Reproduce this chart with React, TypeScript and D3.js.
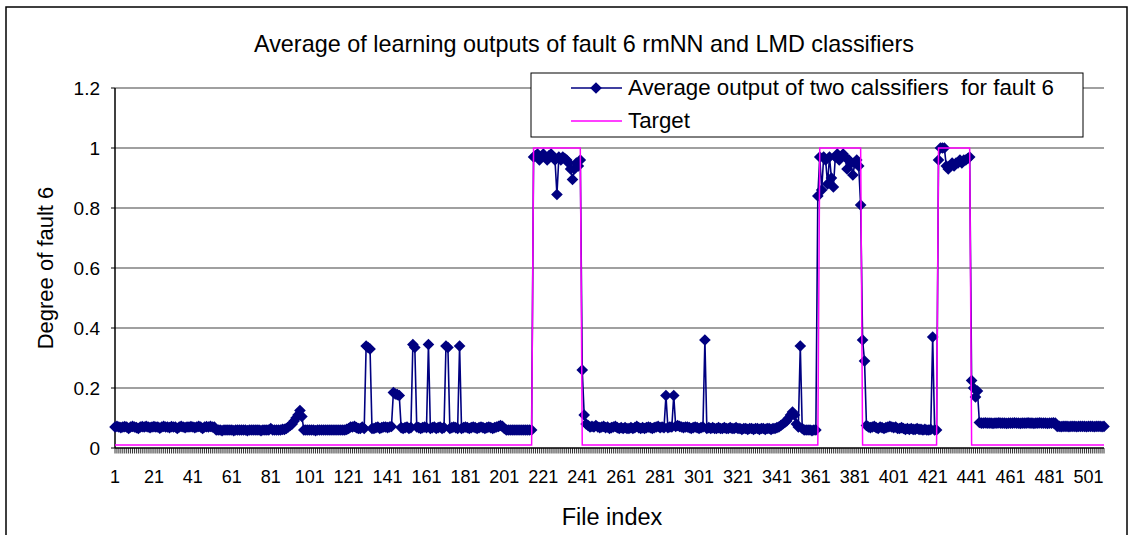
import React from 'react';
import * as d3 from 'd3';

const chartTitle = 'Average of learning outputs of fault 6 rmNN and LMD classifiers';
const seriesNames = ['Average output of two calssifiers  for fault 6', 'Target'];
const xTitle = 'File index';
const yTitle = 'Degree of fault 6';

// average output of the two classifiers, file index 1..509 (rows of 10)
const avgOutput = [
  0.07,0.072,0.07,0.068,0.07,0.071,0.07,0.065,0.07,0.072,
  0.07,0.068,0.065,0.07,0.071,0.07,0.072,0.07,0.068,0.07,
  0.071,0.07,0.07,0.066,0.07,0.072,0.07,0.07,0.068,0.071,
  0.07,0.07,0.065,0.07,0.072,0.07,0.068,0.07,0.07,0.071,
  0.07,0.068,0.07,0.072,0.07,0.065,0.07,0.071,0.07,0.072,
  0.07,0.07,0.06,0.06,0.06,0.058,0.06,0.06,0.06,0.06,
  0.06,0.058,0.06,0.06,0.06,0.06,0.06,0.06,0.058,0.06,
  0.06,0.06,0.06,0.06,0.06,0.058,0.06,0.06,0.06,0.06,
  0.065,0.06,0.06,0.06,0.06,0.06,0.062,0.062,0.065,0.07,
  0.075,0.08,0.09,0.1,0.11,0.125,0.105,0.06,0.06,0.06,
  0.06,0.06,0.06,0.058,0.06,0.06,0.06,0.06,0.06,0.06,
  0.06,0.06,0.06,0.06,0.06,0.06,0.06,0.06,0.06,0.062,
  0.065,0.07,0.07,0.072,0.068,0.065,0.065,0.07,0.065,0.34,
  0.335,0.33,0.065,0.065,0.068,0.07,0.065,0.068,0.07,0.07,
  0.068,0.07,0.072,0.185,0.18,0.178,0.175,0.068,0.065,0.068,
  0.07,0.065,0.068,0.345,0.335,0.07,0.068,0.065,0.068,0.07,
  0.068,0.345,0.065,0.068,0.07,0.065,0.068,0.07,0.065,0.068,
  0.34,0.335,0.065,0.068,0.07,0.068,0.065,0.34,0.065,0.068,
  0.07,0.068,0.065,0.068,0.07,0.068,0.065,0.068,0.07,0.068,
  0.065,0.068,0.07,0.068,0.065,0.068,0.07,0.072,0.075,0.072,
  0.065,0.06,0.06,0.06,0.06,0.06,0.06,0.06,0.06,0.06,
  0.06,0.06,0.06,0.06,0.06,0.97,0.975,0.98,0.96,0.97,
  0.98,0.97,0.96,0.975,0.98,0.97,0.96,0.845,0.97,0.96,
  0.97,0.965,0.96,0.95,0.93,0.895,0.93,0.95,0.94,0.96,
  0.26,0.11,0.08,0.075,0.07,0.072,0.07,0.075,0.07,0.068,
  0.07,0.072,0.068,0.07,0.065,0.068,0.07,0.072,0.068,0.065,
  0.068,0.065,0.068,0.065,0.065,0.068,0.065,0.068,0.072,0.068,
  0.065,0.068,0.065,0.068,0.07,0.068,0.065,0.068,0.07,0.072,
  0.068,0.07,0.068,0.175,0.068,0.07,0.07,0.175,0.072,0.075,
  0.072,0.07,0.068,0.07,0.07,0.068,0.065,0.068,0.07,0.068,
  0.065,0.068,0.07,0.36,0.065,0.068,0.065,0.068,0.065,0.065,
  0.068,0.065,0.065,0.068,0.065,0.065,0.068,0.065,0.065,0.068,
  0.065,0.065,0.062,0.065,0.065,0.062,0.065,0.065,0.062,0.065,
  0.065,0.062,0.065,0.065,0.062,0.065,0.065,0.062,0.065,0.065,
  0.068,0.07,0.075,0.08,0.085,0.09,0.1,0.11,0.12,0.11,
  0.08,0.07,0.34,0.065,0.06,0.06,0.06,0.06,0.058,0.06,
  0.06,0.84,0.97,0.86,0.97,0.96,0.88,0.97,0.9,0.87,
  0.97,0.98,0.96,0.97,0.98,0.97,0.93,0.96,0.95,0.91,
  0.95,0.96,0.94,0.81,0.36,0.29,0.075,0.07,0.068,0.07,
  0.072,0.068,0.065,0.07,0.068,0.065,0.068,0.07,0.072,0.07,
  0.068,0.07,0.065,0.065,0.068,0.065,0.062,0.065,0.062,0.065,
  0.062,0.062,0.065,0.062,0.062,0.06,0.062,0.06,0.06,0.062,
  0.37,0.06,0.06,0.96,1.0,1.0,1.0,0.94,0.93,0.94,
  0.95,0.94,0.95,0.95,0.96,0.95,0.96,0.96,0.965,0.97,
  0.225,0.2,0.17,0.19,0.085,0.083,0.083,0.084,0.083,0.083,
  0.083,0.082,0.083,0.083,0.084,0.083,0.083,0.083,0.082,0.083,
  0.083,0.083,0.084,0.083,0.083,0.082,0.083,0.083,0.083,0.084,
  0.083,0.083,0.082,0.083,0.083,0.084,0.083,0.083,0.083,0.082,
  0.083,0.083,0.084,0.083,0.072,0.072,0.071,0.072,0.072,0.072,
  0.071,0.072,0.072,0.072,0.071,0.072,0.072,0.072,0.072,0.071,
  0.072,0.072,0.072,0.071,0.072,0.072,0.072,0.071,0.072,
];

const L = 0.01;
const H = 1;
// target, file index 1..509 (rows of 30)
const target = [
  L,L,L,L,L,L,L,L,L,L, L,L,L,L,L,L,L,L,L,L, L,L,L,L,L,L,L,L,L,L,
  L,L,L,L,L,L,L,L,L,L, L,L,L,L,L,L,L,L,L,L, L,L,L,L,L,L,L,L,L,L,
  L,L,L,L,L,L,L,L,L,L, L,L,L,L,L,L,L,L,L,L, L,L,L,L,L,L,L,L,L,L,
  L,L,L,L,L,L,L,L,L,L, L,L,L,L,L,L,L,L,L,L, L,L,L,L,L,L,L,L,L,L,
  L,L,L,L,L,L,L,L,L,L, L,L,L,L,L,L,L,L,L,L, L,L,L,L,L,L,L,L,L,L,
  L,L,L,L,L,L,L,L,L,L, L,L,L,L,L,L,L,L,L,L, L,L,L,L,L,L,L,L,L,L,
  L,L,L,L,L,L,L,L,L,L, L,L,L,L,L,L,L,L,L,L, L,L,L,L,L,L,L,L,L,L,
  L,L,L,L,L,H,H,H,H,H, H,H,H,H,H,H,H,H,H,H, H,H,H,H,H,H,H,H,H,H,
  L,L,L,L,L,L,L,L,L,L, L,L,L,L,L,L,L,L,L,L, L,L,L,L,L,L,L,L,L,L,
  L,L,L,L,L,L,L,L,L,L, L,L,L,L,L,L,L,L,L,L, L,L,L,L,L,L,L,L,L,L,
  L,L,L,L,L,L,L,L,L,L, L,L,L,L,L,L,L,L,L,L, L,L,L,L,L,L,L,L,L,L,
  L,L,L,L,L,L,L,L,L,L, L,L,L,L,L,L,L,L,L,L, L,L,L,L,L,L,L,L,L,L,
  L,L,H,H,H,H,H,H,H,H, H,H,H,H,H,H,H,H,H,H, H,H,H,H,L,L,L,L,L,L,
  L,L,L,L,L,L,L,L,L,L, L,L,L,L,L,L,L,L,L,L, L,L,L,L,L,L,L,L,L,L,
  L,L,L,H,H,H,H,H,H,H, H,H,H,H,H,H,H,H,H,H, L,L,L,L,L,L,L,L,L,L,
  L,L,L,L,L,L,L,L,L,L, L,L,L,L,L,L,L,L,L,L, L,L,L,L,L,L,L,L,L,L,
  L,L,L,L,L,L,L,L,L,L, L,L,L,L,L,L,L,L,L,L, L,L,L,L,L,L,L,L,L,
];

const xTickLabels = ['1','21','41','61','81','101','121','141','161','181','201','221','241','261','281','301','321','341','361','381','401','421','441','461','481','501'];
const yTickValues = [0, 0.2, 0.4, 0.6, 0.8, 1, 1.2];
const yTickLabels = ['0', '0.2', '0.4', '0.6', '0.8', '1', '1.2'];

const FONT = '"Liberation Sans", Arial, sans-serif';

export default function App() {
  const left = 115, right = 1104, top = 88, bottom = 448;
  const n = avgOutput.length;
  const indices = d3.range(1, n + 1);
  const x = d3.scaleLinear().domain([1, n]).range([left, right]);
  const y = d3.scaleLinear().domain([0, 1.2]).range([bottom, top]);

  const line = d3.line<number>().x((_, i) => x(i + 1)).y((d) => y(d));
  const diamond = d3.symbol().type(d3.symbolSquare).size(68)() as string;

  return (
    <svg width={1130} height={535} style={{ position: 'absolute', left: 0, top: 0, background: '#fff' }} fontFamily={FONT}>
      <rect x={0} y={0} width={1130} height={535} fill="#fff" />
      <rect x={6} y={7} width={1121} height={600} fill="none" stroke="#000" strokeWidth={1.5} />
      <text x={584} y={52} textAnchor="middle" fontSize={23.4} fill="#000">{chartTitle}</text>

      {/* gridlines */}
      {yTickValues.filter((v) => v > 0).map((v) => (
        <line key={'g' + v} x1={left} x2={right} y1={y(v)} y2={y(v)} stroke="#808080" strokeWidth={1.5} />
      ))}
      {/* y axis */}
      <line x1={left} x2={left} y1={top} y2={bottom} stroke="#000" strokeWidth={1.5} />
      {yTickValues.map((v, i) => (
        <g key={'yt' + v}>
          <line x1={left - 4} x2={left} y1={y(v)} y2={y(v)} stroke="#000" strokeWidth={1} />
          <text x={100} y={y(v) + 7} textAnchor="end" fontSize={19} fill="#000">{yTickLabels[i]}</text>
        </g>
      ))}
      {/* x axis */}
      <line x1={left} x2={right} y1={bottom} y2={bottom} stroke="#000" strokeWidth={1.5} />
      {indices.map((i) => (
        <line key={'xt' + i} x1={x(i)} x2={x(i)} y1={bottom} y2={bottom + 5.5} stroke="#000" strokeWidth={0.8} />
      ))}
      {xTickLabels.map((lab) => (
        <text key={'xl' + lab} x={x(+lab)} y={483} textAnchor="middle" fontSize={18} fill="#000">{lab}</text>
      ))}

      {/* average output series */}
      <path d={line(avgOutput) || ''} fill="none" stroke="#000080" strokeWidth={1.6} />
      {avgOutput.map((v, i) => (
        <path key={'m' + i} d={diamond} transform={`translate(${x(i + 1)},${y(v)}) rotate(45)`} fill="#000080" />
      ))}
      {/* target */}
      <path d={line(target) || ''} fill="none" stroke="#FF00FF" strokeWidth={1.5} />

      {/* legend */}
      <rect x={531} y={73} width={552} height={64} fill="#fff" stroke="#000" strokeWidth={1} />
      <line x1={571} x2={622} y1={88} y2={88} stroke="#000080" strokeWidth={1.5} />
      <path d={diamond} transform="translate(596,88) rotate(45)" fill="#000080" />
      <text x={628} y={95} fontSize={22.3} fill="#000" style={{ whiteSpace: 'pre' }} xmlSpace="preserve">{seriesNames[0]}</text>
      <line x1={571} x2={622} y1={121} y2={121} stroke="#FF00FF" strokeWidth={1.5} />
      <text x={628} y={128} fontSize={22.3} fill="#000">{seriesNames[1]}</text>

      {/* axis titles */}
      <text x={612} y={525} textAnchor="middle" fontSize={23.5} fill="#000">{xTitle}</text>
      <text transform="translate(53,268) rotate(-90)" textAnchor="middle" fontSize={22} fill="#000">{yTitle}</text>
    </svg>
  );
}
